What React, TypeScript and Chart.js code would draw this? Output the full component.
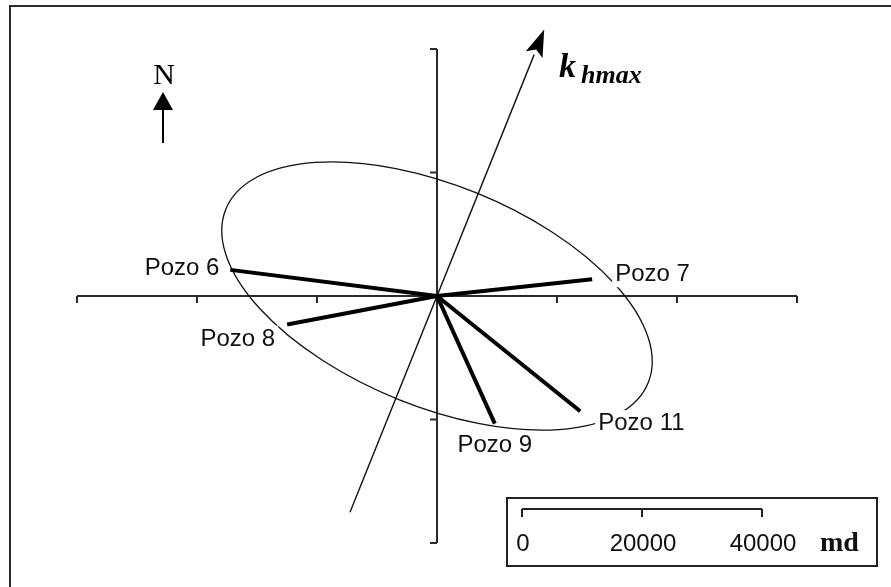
import { useEffect, useRef } from "react";
import { Chart, registerables } from "chart.js";

Chart.register(...registerables);

// Permeability measured at each well (md) and azimuth of its direction (degrees from north)
const wellNames = ["Pozo 6", "Pozo 7", "Pozo 8", "Pozo 9", "Pozo 11"];
const wellPermeability = [34700, 26000, 25400, 22800, 30300];
const wellAzimuth = [277, 84, 259.5, 155, 128];

// Label placement relative to each line end (px)
const labelDx = [-11, 23, -12, 0, 18];
const labelDy = [5, 2, 21, 28, 19];
const labelAlign: CanvasTextAlign[] = ["right", "left", "right", "center", "left"];
const labelMask = [false, true, true, false, true];

// Axis tick values (md)
const xTicks = [-60000, -40000, -20000, 20000, 40000, 60000];
const yTicks = [-40000, -20000, 20000, 40000];

// Fitted permeability ellipse (md, azimuth of the major axis)
const ellipseSemiMajor = 37900;
const ellipseSemiMinor = 17950;
const ellipseAzimuth = 111.5;

// Principal direction of maximum horizontal permeability
const khmaxAzimuth = 22.5;
const khmaxHead = 46700;
const khmaxTail = 37900;

// Scale bar
const scaleBarValues = [0, 20000, 40000];
const scaleBarLabels = ["0", "20000", "40000"];

const SANS = "'Liberation Sans', Arial, sans-serif";
const SERIF = "'Liberation Serif', 'Times New Roman', serif";

const toXY = (k: number, az: number) => {
  const r = (az * Math.PI) / 180;
  return { x: k * Math.sin(r), y: k * Math.cos(r) };
};

const wellEnds = wellPermeability.map((k, i) => toXY(k, wellAzimuth[i]));

const diagramPlugin = {
  id: "rosette",
  beforeDatasetsDraw(chart: any) {
    const { ctx } = chart;
    const xs = chart.scales.x;
    const ys = chart.scales.y;
    const cx = xs.getPixelForValue(0);
    const cy = ys.getPixelForValue(0);
    ctx.save();

    // frame
    ctx.strokeStyle = "#2b2b2b";
    ctx.lineWidth = 2;
    ctx.beginPath();
    ctx.moveTo(10, 700);
    ctx.lineTo(10, 6);
    ctx.lineTo(1000, 6);
    ctx.stroke();

    // cross axes
    ctx.strokeStyle = "#2a2a2a";
    ctx.lineWidth = 2;
    ctx.beginPath();
    ctx.moveTo(xs.getPixelForValue(-60000), cy);
    ctx.lineTo(xs.getPixelForValue(60000), cy);
    ctx.moveTo(cx, ys.getPixelForValue(40000));
    ctx.lineTo(cx, ys.getPixelForValue(-40000));
    for (const t of xTicks) {
      const px = xs.getPixelForValue(t);
      ctx.moveTo(px, cy);
      ctx.lineTo(px, cy + 7);
    }
    for (const t of yTicks) {
      const py = ys.getPixelForValue(t);
      ctx.moveTo(cx, py);
      ctx.lineTo(cx - 7, py);
    }
    ctx.stroke();

    // permeability ellipse, built in data units then stroked in pixels
    const pxPerX = xs.getPixelForValue(1000) - cx;
    const pxPerY = cy - ys.getPixelForValue(1000);
    ctx.save();
    ctx.translate(cx, cy);
    ctx.scale(pxPerX / 1000, -pxPerY / 1000);
    ctx.rotate(((90 - ellipseAzimuth) * Math.PI) / 180);
    ctx.beginPath();
    ctx.ellipse(0, 0, ellipseSemiMajor, ellipseSemiMinor, 0, 0, Math.PI * 2);
    ctx.restore();
    ctx.strokeStyle = "#111";
    ctx.lineWidth = 1.3;
    ctx.stroke();

    // k_hmax direction arrow
    const tip = toXY(khmaxHead, khmaxAzimuth);
    const tail = toXY(-khmaxTail, khmaxAzimuth);
    const tx = xs.getPixelForValue(tip.x);
    const ty = ys.getPixelForValue(tip.y);
    const bx = xs.getPixelForValue(tail.x);
    const by = ys.getPixelForValue(tail.y);
    const len = Math.hypot(tx - bx, ty - by);
    const ux = (tx - bx) / len;
    const uy = (ty - by) / len;
    const headLen = 27;
    const headHalf = 9;
    ctx.beginPath();
    ctx.moveTo(bx, by);
    ctx.lineTo(tx - ux * headLen, ty - uy * headLen);
    ctx.strokeStyle = "#111";
    ctx.lineWidth = 1.4;
    ctx.stroke();
    ctx.beginPath();
    ctx.moveTo(tx, ty);
    ctx.lineTo(tx - ux * headLen - uy * headHalf, ty - uy * headLen + ux * headHalf);
    ctx.lineTo(tx - ux * headLen * 0.8, ty - uy * headLen * 0.8);
    ctx.lineTo(tx - ux * headLen + uy * headHalf, ty - uy * headLen - ux * headHalf);
    ctx.closePath();
    ctx.fillStyle = "#000";
    ctx.fill();

    ctx.restore();
  },
  afterDatasetsDraw(chart: any) {
    const { ctx } = chart;
    const xs = chart.scales.x;
    const ys = chart.scales.y;
    const cx = xs.getPixelForValue(0);
    ctx.save();

    // well labels
    ctx.font = `24px ${SANS}`;
    ctx.textBaseline = "alphabetic";
    wellNames.forEach((name, i) => {
      const ex = xs.getPixelForValue(wellEnds[i].x);
      const ey = ys.getPixelForValue(wellEnds[i].y);
      const lx = ex + labelDx[i];
      const ly = ey + labelDy[i];
      const w = ctx.measureText(name).width;
      const left = labelAlign[i] === "left" ? lx : labelAlign[i] === "right" ? lx - w : lx - w / 2;
      if (labelMask[i]) {
        ctx.fillStyle = "#fff";
        ctx.fillRect(left - 3, ly - 20, w + 6, 26);
      }
      ctx.fillStyle = "#111";
      ctx.textAlign = "left";
      ctx.fillText(name, left, ly);
    });

    // north arrow
    ctx.fillStyle = "#000";
    ctx.beginPath();
    ctx.moveTo(163, 92);
    ctx.lineTo(173, 110);
    ctx.lineTo(153, 110);
    ctx.closePath();
    ctx.fill();
    ctx.strokeStyle = "#000";
    ctx.lineWidth = 2;
    ctx.beginPath();
    ctx.moveTo(163, 108);
    ctx.lineTo(163, 143);
    ctx.stroke();
    ctx.font = `30px ${SERIF}`;
    ctx.textAlign = "center";
    ctx.fillText("N", 164, 84);

    // k_hmax label
    ctx.textAlign = "left";
    ctx.font = `italic bold 34px ${SERIF}`;
    ctx.fillText("k", 559, 77);
    ctx.font = `italic bold 26px ${SERIF}`;
    ctx.fillText("hmax", 581, 83);

    // scale bar box
    ctx.strokeStyle = "#222";
    ctx.lineWidth = 2;
    ctx.strokeRect(507, 498, 370, 68);
    const x0 = 522;
    const barY = 509;
    const pxOf = (v: number) => x0 + (xs.getPixelForValue(v) - cx);
    ctx.beginPath();
    ctx.moveTo(pxOf(scaleBarValues[0]), barY);
    ctx.lineTo(pxOf(scaleBarValues[scaleBarValues.length - 1]), barY);
    for (const v of scaleBarValues) {
      ctx.moveTo(pxOf(v), barY);
      ctx.lineTo(pxOf(v), barY + 8);
    }
    ctx.stroke();
    ctx.fillStyle = "#111";
    ctx.font = `24px ${SANS}`;
    ctx.textAlign = "center";
    scaleBarValues.forEach((v, i) => ctx.fillText(scaleBarLabels[i], pxOf(v) + 1, 551));
    ctx.textAlign = "left";
    ctx.font = `bold 28px ${SERIF}`;
    ctx.fillText("md", 820, 551);

    ctx.restore();
  },
};

export default function App() {
  const canvasRef = useRef<HTMLCanvasElement>(null);

  useEffect(() => {
    if (!canvasRef.current) return;
    const chart = new Chart(canvasRef.current, {
      type: "scatter",
      data: {
        datasets: wellNames.map((name, i) => ({
          label: name,
          data: [{ x: 0, y: 0 }, wellEnds[i]],
          showLine: true,
          borderColor: "#000",
          borderWidth: 4,
          borderCapStyle: "butt" as const,
          pointRadius: 0,
          clip: false as any,
        })),
      },
      options: {
        responsive: false,
        animation: false,
        devicePixelRatio: 1,
        layout: { padding: { left: 77, right: 94, top: 49, bottom: 44 } },
        plugins: { legend: { display: false }, tooltip: { enabled: false } },
        scales: {
          x: { type: "linear", min: -60000, max: 60000, display: false },
          y: { type: "linear", min: -40000, max: 40000, display: false },
        },
      },
      plugins: [diagramPlugin],
    });
    return () => chart.destroy();
  }, []);

  return (
    <div style={{ position: "absolute", left: 0, top: 0, width: 891, height: 587, background: "#fff" }}>
      <canvas ref={canvasRef} width={891} height={587} style={{ display: "block" }} />
    </div>
  );
}
